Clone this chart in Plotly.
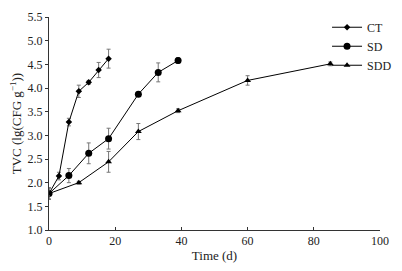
import plotly.graph_objects as go

ct_x = [0, 3, 6, 9, 12, 15, 18]
ct_y = [1.77, 2.14, 3.28, 3.93, 4.12, 4.38, 4.62]
ct_err = [0.12, 0.08, 0.08, 0.13, 0.04, 0.16, 0.2]

sd_x = [0, 6, 12, 18, 27, 33, 39]
sd_y = [1.77, 2.15, 2.62, 2.93, 3.87, 4.33, 4.58]
sd_err = [0.12, 0.15, 0.22, 0.22, 0.02, 0.2, 0.06]

sdd_x = [0, 9, 18, 27, 39, 60, 85]
sdd_y = [1.77, 2.0, 2.44, 3.08, 3.52, 4.16, 4.51]
sdd_err = [0.12, 0.03, 0.22, 0.17, 0.04, 0.1, 0.04]

font = "Liberation Serif, Times New Roman, serif"
fig = go.Figure()

def add(name, x, y, e, symbol, size):
    fig.add_trace(go.Scatter(
        x=x, y=y, name=name, mode="lines+markers",
        line=dict(color="black", width=1),
        marker=dict(symbol=symbol, size=size, color="black"),
        error_y=dict(type="data", array=e, visible=True, color="#777777",
                     thickness=1, width=2),
    ))

add("CT", ct_x, ct_y, ct_err, "diamond", 5)
add("SD", sd_x, sd_y, sd_err, "circle", 7)
add("SDD", sdd_x, sdd_y, sdd_err, "triangle-up", 6)

fig.update_layout(
    width=394, height=263,
    margin=dict(l=41, r=19, t=5, b=41),
    paper_bgcolor="white", plot_bgcolor="white",
    font=dict(family=font, size=12, color="#222222"),
    showlegend=True,
    legend=dict(x=0.84, y=1.02, xanchor="left", yanchor="top",
                bgcolor="rgba(0,0,0,0)", font=dict(size=12),
                itemwidth=30, tracegroupgap=0, borderwidth=0),
    xaxis=dict(range=[0, 100], tickvals=[0, 20, 40, 60, 80, 100],
               showgrid=False, zeroline=False, showline=True, automargin=False,
               linecolor="#333333", linewidth=1, ticks="inside",
               ticklen=3, tickcolor="#333333",
               title=dict(text="Time (d)", font=dict(size=13), standoff=3)),
    yaxis=dict(range=[1.0, 5.5], dtick=0.5, tickformat=".1f",
               showgrid=False, zeroline=False, showline=True, automargin=False,
               linecolor="#333333", linewidth=1, ticks="outside",
               ticklen=3, tickcolor="#333333",
               title=dict(text="TVC (lg(CFG g<sup>−1</sup>))",
                          font=dict(size=13), standoff=6)),
)

fig.write_html("out.html")
